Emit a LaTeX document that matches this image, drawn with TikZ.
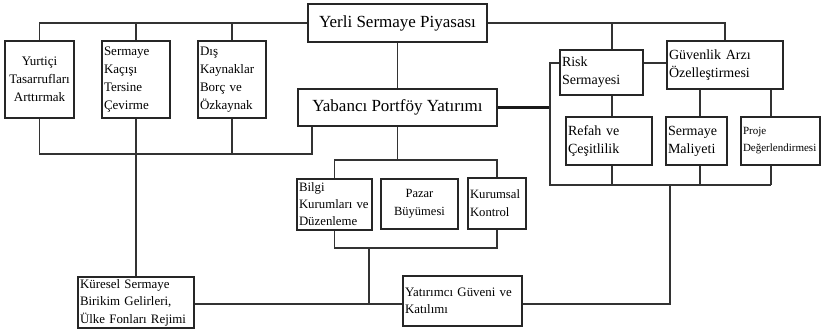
\documentclass[tikz,border=0pt]{standalone}
\usepackage{fontspec}
\setmainfont{Liberation Serif}
\begin{document}
\begin{tikzpicture}[x=1pt,y=-1pt,
  bx/.style={draw=black!85, line width=1.3pt, inner xsep=2pt, inner ysep=1pt, align=left, text=black},
  big/.style={font=\fontsize{17}{20}\selectfont, align=center},
  sm/.style={font=\fontsize{13}{18}\selectfont},
  md/.style={font=\fontsize{14}{18}\selectfont},
  ln/.style={draw=black!80, line width=1.1pt},
  thk/.style={draw=black!90, line width=2.4pt}]
\useasboundingbox (0,0) rectangle (822,331);
% boxes
\node[bx,big,minimum width=179pt,minimum height=38pt] (ysp) at (397.5,23) {Yerli Sermaye Piyasası};
\node[bx,sm,align=center,text width=65pt,minimum height=77pt] (yur) at (39.5,79.5) {Yurtiçi\\Tasarrufları\\Arttırmak\\[4pt]};
\node[bx,sm,text width=64pt,minimum height=77pt] (skc) at (136,79.5) {Sermaye\\Kaçışı\\Tersine\\Çevirme};
\node[bx,sm,text width=64pt,minimum height=77pt] (dis) at (232,79.5) {Dış\\Kaynaklar\\Borç ve\\Özkaynak};
\node[bx,big,minimum width=199pt,minimum height=37pt] (ypy) at (397.5,107.5) {Yabancı Portföy Yatırımı};
\node[bx,font=\fontsize{12.8}{17}\selectfont,text width=71pt,minimum height=51pt] (bil) at (334.5,204.5) {Bilgi\\Kurumları ve\\Düzenleme};
\node[bx,font=\fontsize{12.5}{18}\selectfont,align=center,text width=73pt,minimum height=50pt] (paz) at (419.5,204) {Pazar\\Büyümesi};
\node[bx,font=\fontsize{12.7}{18}\selectfont,text width=54pt,minimum height=51pt] (kur) at (497,203.5) {Kurumsal\\Kontrol\\[4pt]};
\node[bx,font=\fontsize{12.9}{17.5}\selectfont,text width=112pt,minimum height=51pt] (kue) at (136,302.5) {Küresel Sermaye\\Birikim Gelirleri,\\Ülke Fonları Rejimi};
\node[bx,font=\fontsize{12.9}{17.5}\selectfont,text width=115pt,minimum height=50pt] (yat) at (462.5,301) {Yatırımcı Güveni ve\\Katılımı\\[4pt]};
\node[bx,md,text width=79pt,minimum height=45pt] (ris) at (601.5,72.5) {Risk\\Sermayesi};
\node[bx,md,text width=112pt,minimum height=48pt] (guv) at (725,65) {Güvenlik Arzı\\Özelleştirmesi};
\node[bx,md,text width=82pt,minimum height=48pt] (ref) at (609,141) {Refah ve\\Çeşitlilik};
\node[bx,md,text width=57pt,minimum height=48pt] (smy) at (696.5,141) {Sermaye\\Maliyeti};
\node[bx,font=\fontsize{11}{17}\selectfont,text width=75pt,minimum height=48pt] (pro) at (780.5,141) {Proje\\Değerlendirmesi};
% helper coordinates
\coordinate (lbr) at (312,154);
\coordinate (mtop) at (397.5,160);
\coordinate (mbot) at (369,248);
\coordinate (hl) at (0,304);
\coordinate (rv) at (670,185);
\coordinate (vb) at (550,63);
\coordinate (bb) at (550,185);
\coordinate (cx1) at (612,0);
\coordinate (cx2) at (700,0);
\coordinate (cx3) at (771,0);
% top left tree
\draw[ln] (ysp.west) -| (yur.north);
\draw[ln] (skc.north) -- (skc.north |- ysp.west);
\draw[ln] (dis.north) -- (dis.north |- ysp.west);
% top right tree
\draw[ln] (ysp.east) -| (guv.north);
\draw[ln] (cx1 |- ris.north) -- (cx1 |- ysp.east);
% middle
\draw[ln] (ysp.south) -- (ypy.north);
\draw[ln] (yur.south) |- (lbr) -- (lbr |- ypy.south);
\draw[ln] (dis.south) -- (dis.south |- lbr);
\draw[ln] (skc.south) -- (kue.north);
\draw[ln] (ypy.south) -- (mtop);
\draw[ln] (bil.north) |- (mtop) -| (kur.north);
\draw[ln] (bil.south) |- (mbot) -| (kur.south);
\draw[ln] (mbot) -- (mbot |- hl);
\draw[ln] (kue.east |- hl) -- (yat.west |- hl);
\draw[ln] (yat.east |- hl) -| (rv);
% right cluster
\draw[thk] (ypy.east) -- (ypy.east -| vb);
\draw[ln] (ris.west |- vb) -- (vb) -- (bb) -- (cx3 |- bb);
\draw[ln] (ris.east |- vb) -- (guv.west |- vb);
\draw[ln] (cx1 |- ris.south) -- (cx1 |- ref.north);
\draw[ln] (cx2 |- guv.south) -- (cx2 |- smy.north);
\draw[ln] (cx3 |- guv.south) -- (cx3 |- pro.north);
\draw[ln] (cx1 |- ref.south) -- (cx1 |- bb);
\draw[ln] (cx2 |- smy.south) -- (cx2 |- bb);
\draw[ln] (cx3 |- pro.south) -- (cx3 |- bb);
\end{tikzpicture}
\end{document}
